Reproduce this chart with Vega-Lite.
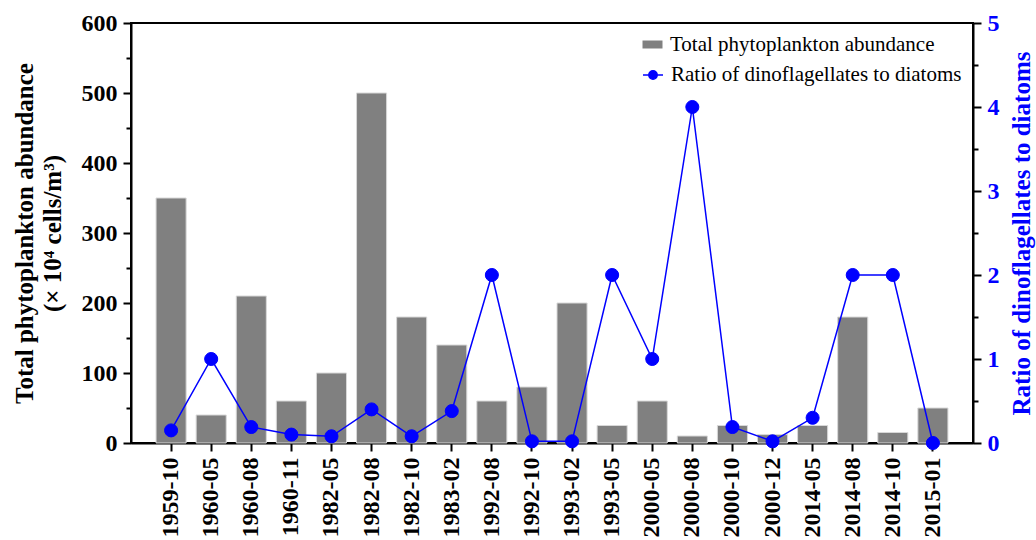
{
  "$schema": "https://vega.github.io/schema/vega-lite/v6.json",
  "width": 842,
  "height": 420,
  "autosize": {"type": "none"},
  "padding": {"left": 131, "top": 23, "right": 63, "bottom": 97},
  "background": "white",
  "config": {
    "view": {"stroke": "black", "strokeWidth": 2},
    "font": "Liberation Serif",
    "axis": {
      "grid": false,
      "domainColor": "black",
      "domainWidth": 2,
      "tickColor": "black",
      "tickWidth": 2,
      "labelFont": "Liberation Serif",
      "labelFontWeight": "bold",
      "labelFontSize": 24,
      "labelColor": "black",
      "titleFont": "Liberation Serif",
      "titleFontWeight": "bold",
      "titleFontSize": 25,
      "titleColor": "black"
    },
    "legend": {
      "labelFont": "Liberation Serif",
      "labelFontSize": 21,
      "labelFontWeight": "normal",
      "labelColor": "black",
      "labelLimit": 500,
      "labelOffset": 7,
      "symbolSize": 400,
      "padding": 2,
      "layout": {"top-right": {"direction": "vertical", "anchor": "start", "margin": 5}}
    }
  },
  "data": {
    "values": [
      {"date": "1959-10", "abundance": 350, "ratio": 0.15},
      {"date": "1960-05", "abundance": 40, "ratio": 1.0},
      {"date": "1960-08", "abundance": 210, "ratio": 0.19},
      {"date": "1960-11", "abundance": 60, "ratio": 0.1},
      {"date": "1982-05", "abundance": 100, "ratio": 0.08},
      {"date": "1982-08", "abundance": 500, "ratio": 0.4},
      {"date": "1982-10", "abundance": 180, "ratio": 0.08},
      {"date": "1983-02", "abundance": 140, "ratio": 0.38},
      {"date": "1992-08", "abundance": 60, "ratio": 2.0},
      {"date": "1992-10", "abundance": 80, "ratio": 0.02},
      {"date": "1993-02", "abundance": 200, "ratio": 0.02},
      {"date": "1993-05", "abundance": 25, "ratio": 2.0},
      {"date": "2000-05", "abundance": 60, "ratio": 1.0},
      {"date": "2000-08", "abundance": 10, "ratio": 4.0},
      {"date": "2000-10", "abundance": 25, "ratio": 0.19},
      {"date": "2000-12", "abundance": 12, "ratio": 0.02},
      {"date": "2014-05", "abundance": 25, "ratio": 0.3},
      {"date": "2014-08", "abundance": 180, "ratio": 2.0},
      {"date": "2014-10", "abundance": 15, "ratio": 2.0},
      {"date": "2015-01", "abundance": 50, "ratio": 0.0}
    ]
  },
  "encoding": {
    "x": {
      "field": "date",
      "type": "ordinal",
      "sort": null,
      "scale": {"paddingInner": 0.25, "paddingOuter": 0.625},
      "axis": {"title": null, "labelAngle": 270, "tickSize": 8, "labelPadding": 6}
    }
  },
  "layer": [
    {
      "mark": {"type": "bar", "stroke": "#d8d8d8", "strokeWidth": 1},
      "encoding": {
        "y": {
          "field": "abundance",
          "type": "quantitative",
          "scale": {"domain": [0, 600], "nice": false},
          "axis": {
            "orient": "left",
            "title": ["Total phytoplankton abundance", "(× 10⁴ cells/m³)"],
            "titleLineHeight": 28,
            "titlePadding": 16,
            "values": [0, 50, 100, 150, 200, 250, 300, 350, 400, 450, 500, 550, 600],
            "labelExpr": "datum.value % 100 == 0 ? datum.label : ''",
            "tickSize": {"condition": {"test": "datum.value % 100 == 0", "value": 8}, "value": 5},
            "labelPadding": 6
          }
        },
        "fill": {
          "datum": "Total phytoplankton abundance",
          "scale": {"range": ["#808080"]},
          "legend": {
            "title": null,
            "orient": "top-right",
            "offset": 9,
            "symbolType": "M-1,-0.4H1V0.4H-1Z",
            "symbolStrokeWidth": 0
          }
        }
      }
    },
    {
      "mark": {
        "type": "line",
        "strokeWidth": 1.5,
        "point": {"filled": true, "fill": "#0000ff", "size": 170, "stroke": "#dcdcff", "strokeWidth": 1}
      },
      "encoding": {
        "y": {
          "field": "ratio",
          "type": "quantitative",
          "scale": {"domain": [0, 5], "nice": false},
          "axis": {
            "orient": "right",
            "title": "Ratio of dinoflagellates to diatoms",
            "titleColor": "#0000ff",
            "titleAngle": 270,
            "titleBaseline": "top",
            "titlePadding": 10,
            "labelColor": "#0000ff",
            "values": [0, 0.5, 1, 1.5, 2, 2.5, 3, 3.5, 4, 4.5, 5],
            "labelExpr": "datum.value % 1 == 0 ? format(datum.value, 'd') : ''",
            "tickSize": {"condition": {"test": "datum.value % 1 == 0", "value": 8}, "value": 5},
            "labelPadding": 6
          }
        },
        "stroke": {
          "datum": "Ratio of dinoflagellates to diatoms",
          "scale": {"range": ["#0000ff"]},
          "legend": {
            "title": null,
            "orient": "top-right",
            "offset": 9,
            "symbolType": "M-1,0H1M-0.42,0A0.42,0.42,0,1,0,0.42,0A0.42,0.42,0,1,0,-0.42,0Z",
            "symbolFillColor": "#0000ff",
            "symbolStrokeWidth": 1.5,
            "encode": {"symbols": {"update": {"fill": {"value": "#0000ff"}, "fillOpacity": {"value": 1}}}}
          }
        }
      }
    }
  ],
  "resolve": {"scale": {"y": "independent"}}
}
